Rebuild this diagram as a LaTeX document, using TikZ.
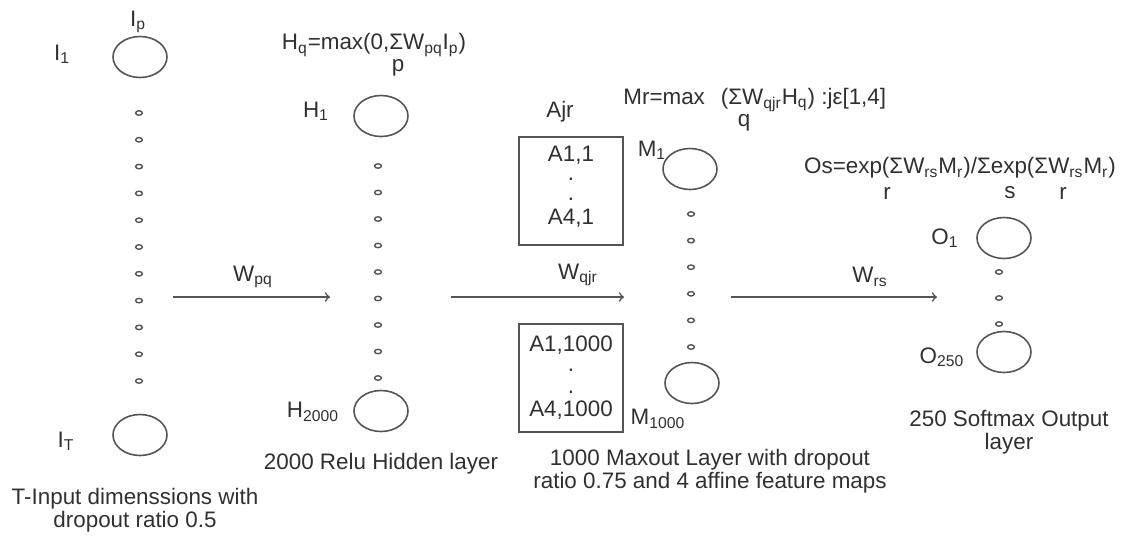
\documentclass[tikz,border=0pt]{standalone}
\usepackage{fontspec}
\setmainfont{Liberation Sans}
\usetikzlibrary{shapes.geometric}
\definecolor{inkgray}{HTML}{303030}
\definecolor{linegray}{HTML}{555555}
\tikzset{
  unit/.style={draw=linegray,line width=0.8pt,ellipse,minimum width=27pt,minimum height=20.5pt,inner sep=0pt},
  tiny/.style={draw=linegray,line width=0.7pt,ellipse,minimum width=3.4pt,minimum height=2.2pt,inner sep=0pt},
  lbl/.style={text=inkgray,inner sep=0pt,font=\fontsize{11.2}{11.5}\selectfont},
  legend/.style={lbl,align=center},
  mapbox/.style={draw=linegray,line width=0.8pt,minimum width=52pt,minimum height=54pt,inner sep=0pt},
  flow/.style={draw=linegray,line width=0.8pt,->}
}
\newcommand{\sbs}[1]{\textsubscript{#1}}
\begin{document}
\begin{tikzpicture}[x=0.5pt,y=-0.5pt]
  \useasboundingbox (0,0) rectangle (1121,537);
  % input layer
  \node[unit] (i1) at (140,57) {};
  \node[unit] (iT) at (140,435) {};
  \foreach \k in {0,...,10} \node[tiny] (id\k) at (139,113+26.8*\k) {};
  \node[lbl] (lip) at (138,22) {I\sbs{p}};
  \node[lbl] (li1) at (62,54) {I\sbs{1}};
  \node[lbl] (liT) at (66,441) {I\sbs{T}};
  \node[legend] (capi) at (135,510) {T-Input dimenssions with\\dropout ratio 0.5};
  % hidden layer
  \node[unit] (h1) at (381,116) {};
  \node[unit] (hN) at (381,411) {};
  \foreach \k in {0,...,8} \node[tiny] (hd\k) at (378,166+26.5*\k) {};
  \node[lbl] (lh1) at (316,111) {H\sbs{1}};
  \node[lbl] (lhN) at (313,412) {H\sbs{2000}};
  \node[lbl] (fh) at (374,45) {H\sbs{q}=max(0,ΣW\sbs{pq}I\sbs{p})};
  \node[lbl] (fhp) at (398,68) {p};
  \node[legend] (caph) at (381,464) {2000 Relu Hidden layer};
  % maxout layer
  \node[mapbox] (b1) at (571,191) {};
  \node[lbl] (b1a) at (571,155) {A1,1};
  \node[lbl] (b1d) at (571,179) {.};
  \node[lbl] (b1e) at (571,199) {.};
  \node[lbl] (b1f) at (571,218) {A4,1};
  \node[mapbox] (b2) at (571,378) {};
  \node[lbl] (b2a) at (571,345) {A1,1000};
  \node[lbl] (b2d) at (571,370) {.};
  \node[lbl] (b2e) at (571,392) {.};
  \node[lbl] (b2f) at (571,410) {A4,1000};
  \node[lbl] (ajr) at (560,112) {Ajr};
  \node[lbl,anchor=west] (fm) at (623,100) {Mr=max\hspace{8pt}(ΣW\sbs{qjr}H\sbs{q}) :jε[1,4]};
  \node[lbl] (fmq) at (744,123) {q};
  \node[unit] (m1) at (690,169) {};
  \node[unit] (mN) at (692,383) {};
  \foreach \k in {0,...,5} \node[tiny] (md\k) at (691,214+26.6*\k) {};
  \node[lbl] (lm1) at (652,150) {M\sbs{1}};
  \node[lbl] (lmN) at (658,419) {M\sbs{1000}};
  \node[legend] (capm) at (710,471) {1000 Maxout Layer with dropout\\ratio 0.75 and 4 affine feature maps};
  % output layer
  \node[lbl] (fo) at (960,168) {Os=exp(ΣW\sbs{rs}M\sbs{r})/Σexp(ΣW\sbs{rs}M\sbs{r})};
  \node[lbl] (fo1) at (887,193) {r};
  \node[lbl] (fo2) at (1010,193) {s};
  \node[lbl] (fo3) at (1063,193) {r};
  \node[unit] (o1) at (1004,238) {};
  \node[unit] (oN) at (1004,352) {};
  \foreach \k in {0,1,2} \node[tiny] (od\k) at (999,272+26*\k) {};
  \node[lbl] (lo1) at (945,238) {O\sbs{1}};
  \node[lbl] (loN) at (942,357) {O\sbs{250}};
  \node[legend] (capo) at (1009,432) {250 Softmax Output\\layer};
  % weights
  \coordinate (w1s) at (173,297);
  \coordinate (w1e) at (330,297);
  \coordinate (w2s) at (451,297);
  \coordinate (w2e) at (624,297);
  \coordinate (w3s) at (731,297);
  \coordinate (w3e) at (937,297);
  \draw[flow] (w1s) -- (w1e);
  \draw[flow] (w2s) -- (w2e);
  \draw[flow] (w3s) -- (w3e);
  \node[lbl] (wpq) at (253,277) {W\sbs{pq}};
  \node[lbl] (wqjr) at (578,275) {W\sbs{qjr}};
  \node[lbl] (wrs) at (870,277) {W\sbs{rs}};
\end{tikzpicture}
\end{document}
